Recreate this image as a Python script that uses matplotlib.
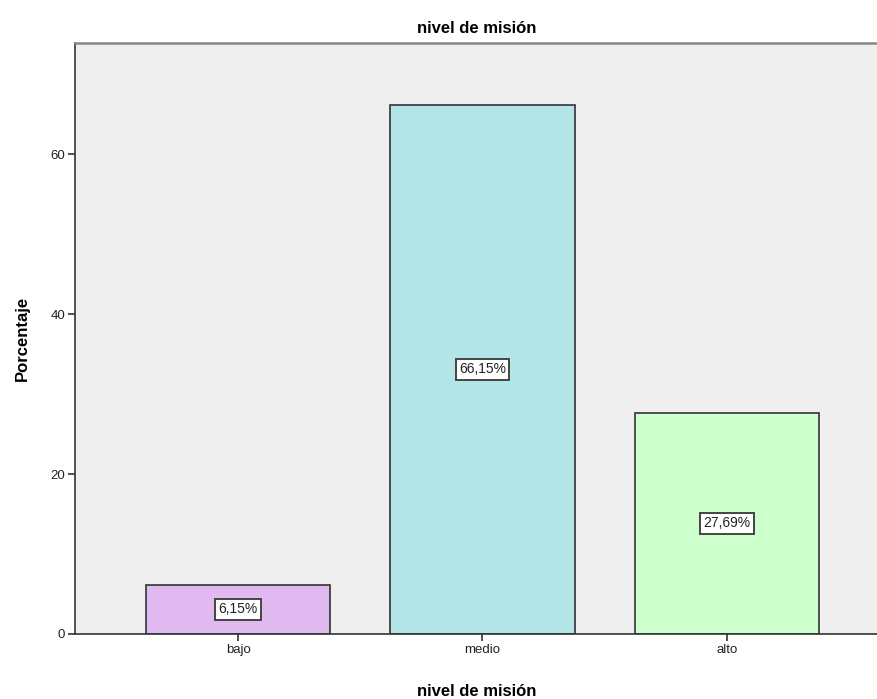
import matplotlib.pyplot as plt

categorias = ["bajo", "medio", "alto"]
porcentajes = [6.15, 66.15, 27.69]
etiquetas = ["6,15%", "66,15%", "27,69%"]
colores = ["#DFB9F0", "#B4E6E7", "#CCFFCC"]
yticks = [0, 20, 40, 60]

plt.rcParams["font.family"] = ["Liberation Sans", "DejaVu Sans"]

fig = plt.figure(figsize=(8.78, 6.99), dpi=100)
ax = fig.add_axes([75 / 878, 1 - 634 / 699, 1 - 75 / 878, (634 - 43) / 699])
ax.set_facecolor("#EFEFEF")

x = list(range(len(categorias)))
ax.bar(x, porcentajes, width=0.753, color=colores, edgecolor="#333333", linewidth=1.2, zorder=2)

for xi, v, lab in zip(x, porcentajes, etiquetas):
    ax.text(xi, v / 2, lab, ha="center", va="center", fontsize=10, color="#222222", zorder=3,
            bbox=dict(boxstyle="square,pad=0.25", facecolor="white", edgecolor="#444444", linewidth=1.4))

ax.set_xlim(-0.667, 2.618)
ax.set_ylim(0, 73.9)
ax.set_xticks(x)
ax.set_xticklabels(categorias, fontsize=9.5, color="#222222")
ax.set_yticks(yticks)
ax.set_yticklabels([str(t) for t in yticks], fontsize=9.5, color="#222222")
ax.tick_params(axis="both", direction="out", length=5, width=1.2, color="#333333", pad=2)

for s in ["left", "bottom"]:
    ax.spines[s].set_color("#333333")
    ax.spines[s].set_linewidth(1.2)
ax.spines["top"].set_color("#888888")
ax.spines["top"].set_linewidth(1.8)
ax.spines["right"].set_visible(False)

ax.set_title("nivel de misión", fontsize=12, fontweight="bold", pad=7)
ax.set_xlabel("nivel de misión", fontsize=12, fontweight="bold", labelpad=20)
ax.set_ylabel("Porcentaje", fontsize=12, fontweight="bold", labelpad=15)

fig.savefig("out.png", dpi=100)
